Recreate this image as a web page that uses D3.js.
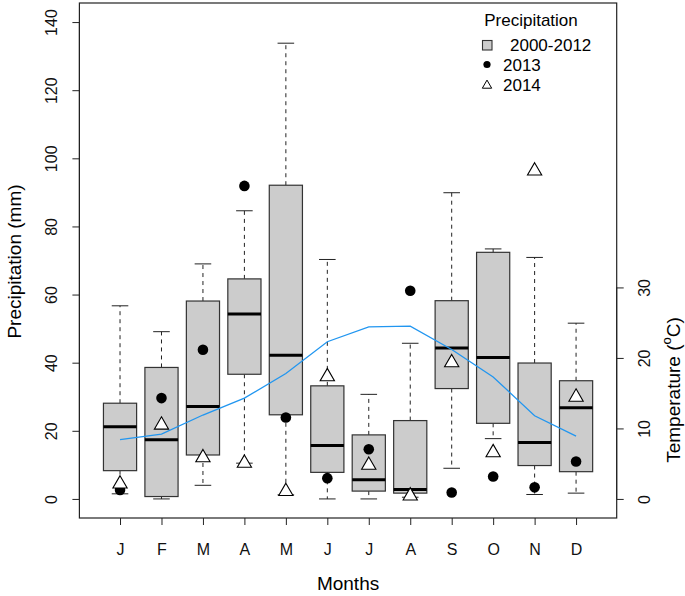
<!DOCTYPE html>
<html><head><meta charset="utf-8">
<script src="https://cdn.jsdelivr.net/npm/d3@7"></script>
<style>body{margin:0;background:#fff}svg text{font-family:"Liberation Sans",Arial,sans-serif}</style>
</head><body><svg id="c" width="685" height="596"></svg>
<script>
const months = ["J","F","M","A","M","J","J","A","S","O","N","D"];
const whiskLo = [1.5, 0, 4.0, 10.5, 1.2, 0, 0, 0.5, 9.0, 17.7, 1.3, 1.7];
const q1      = [8.3, 0.7, 12.9, 36.6, 24.7, 7.8, 2.3, 1.7, 32.4, 22.2, 9.8, 8.0];
const median  = [21.2, 17.4, 27.1, 54.3, 42.2, 15.7, 5.6, 2.8, 44.3, 41.5, 16.6, 26.8];
const q3      = [28.1, 38.6, 58.1, 64.6, 92.1, 33.2, 18.8, 23.0, 58.2, 72.4, 39.9, 34.7];
const whiskHi = [56.7, 49.1, 69.0, 84.6, 133.8, 70.3, 30.7, 45.7, 89.9, 73.4, 70.9, 51.6];
const p2013   = [2.6, 29.6, 43.8, 91.9, 23.9, 6.1, 14.6, 61.1, 1.9, 6.6, 3.4, 11.0];
const p2014   = [4.7, 22.0, 12.4, 10.8, 2.5, 36.2, 10.2, 1.2, 40.3, 13.9, 96.6, 30.2];
const temp    = [8.4, 9.2, 11.9, 14.3, 17.8, 22.3, 24.4, 24.5, 21.2, 17.3, 11.8, 8.9];
const precipTicks = [0,20,40,60,80,100,120,140];
const tempTicks = [0,10,20,30];
const legendLabels = ["2000-2012","2013","2014"];

const svg = d3.select("#c");
const L=79.4, R=616.7, T=3, B=518;
const x = d3.scaleLinear().domain([0.02,12.98]).range([L,R]);
const y = d3.scaleLinear().domain([-5.6,145.6]).range([B,T]);
const yT = d3.scaleLinear().domain([0,30]).range([y(0), y(0)-211.5]);
const bw = x(0.8)-x(0), cw = bw/2;
const idx = d3.range(12);

// boxes
const g = svg.append("g");
idx.forEach(i=>{
  const cx = x(i+1);
  g.append("line").attr("x1",cx).attr("x2",cx).attr("y1",y(q3[i])).attr("y2",y(whiskHi[i]))
    .attr("stroke","#222").attr("stroke-width",1).attr("stroke-dasharray","4,4");
  g.append("line").attr("x1",cx).attr("x2",cx).attr("y1",y(q1[i])).attr("y2",y(whiskLo[i]))
    .attr("stroke","#222").attr("stroke-width",1).attr("stroke-dasharray","4,4");
  [whiskHi[i], whiskLo[i]].forEach(v=>g.append("line").attr("x1",cx-cw/2).attr("x2",cx+cw/2)
    .attr("y1",y(v)).attr("y2",y(v)).attr("stroke","#222").attr("stroke-width",1));
  g.append("rect").attr("x",cx-bw/2).attr("width",bw).attr("y",y(q3[i])).attr("height",y(q1[i])-y(q3[i]))
    .attr("fill","#cccccc").attr("stroke","#333").attr("stroke-width",1.2);
  g.append("line").attr("x1",cx-bw/2).attr("x2",cx+bw/2).attr("y1",y(median[i])).attr("y2",y(median[i]))
    .attr("stroke","#000").attr("stroke-width",3);
});

const tri = d3.symbol().type(d3.symbolTriangle).size(88);
// 2013 points
svg.append("g").selectAll("circle").data(idx).join("circle")
  .attr("cx",i=>x(i+1)).attr("cy",i=>y(p2013[i])).attr("r",5.3).attr("fill","#000");
// 2014 triangles
svg.append("g").selectAll("path").data(idx).join("path")
  .attr("d",tri).attr("transform",i=>`translate(${x(i+1)},${y(p2014[i])+1})`)
  .attr("fill","#fff").attr("stroke","#000").attr("stroke-width",1.1);

// temperature line
svg.append("path").datum(idx).attr("fill","none").attr("stroke","#2196f0").attr("stroke-width",1.3)
  .attr("d",d3.line().x(i=>x(i+1)).y(i=>yT(temp[i])));

// frame
svg.append("rect").attr("x",L).attr("y",T).attr("width",R-L).attr("height",B-T)
  .attr("fill","none").attr("stroke","#222").attr("stroke-width",1.2);

// left axis
const ax = svg.append("g").attr("transform",`translate(${L},0)`)
  .call(d3.axisLeft(y).tickValues(precipTicks).tickSize(7).tickSizeOuter(0));
ax.select(".domain").attr("d",`M0,${y(0)}V${y(140)}`).attr("stroke","#222");
ax.selectAll(".tick line").attr("stroke","#222");
ax.selectAll(".tick text").attr("x",0).attr("dy",0).attr("transform","translate(-28,0) rotate(-90)")
  .attr("text-anchor","middle").attr("dominant-baseline","central")
  .attr("font-size",16).attr("fill","#111");

// right axis
const ar = svg.append("g").attr("transform",`translate(${R},0)`)
  .call(d3.axisRight(yT).tickValues(tempTicks).tickSize(7).tickSizeOuter(0));
ar.select(".domain").attr("d",`M0,${yT(0)}V${yT(30)}`).attr("stroke","#222");
ar.selectAll(".tick line").attr("stroke","#222");
ar.selectAll(".tick text").attr("x",0).attr("dy",0).attr("transform","translate(28,0) rotate(-90)")
  .attr("text-anchor","middle").attr("dominant-baseline","central")
  .attr("font-size",16).attr("fill","#111");

// bottom axis
const xb = d3.scalePoint().domain(idx).range([x(1),x(12)]);
const ab = svg.append("g").attr("transform",`translate(0,${B})`)
  .call(d3.axisBottom(xb).tickSize(7).tickFormat(i=>months[i]));
ab.select(".domain").remove();
ab.selectAll(".tick line").attr("stroke","#222");
ab.selectAll(".tick text").attr("y",31).attr("dy",0).attr("dominant-baseline","central")
  .attr("font-size",16).attr("fill","#111");

// titles
svg.append("text").attr("transform",`translate(14,${(y(0)+y(140))/2+1}) rotate(-90)`)
  .attr("text-anchor","middle").attr("dominant-baseline","central").attr("font-size",19).text("Precipitation (mm)");
const tt = svg.append("text").attr("transform",`translate(673,390) rotate(-90)`)
  .attr("text-anchor","middle").attr("dominant-baseline","central").attr("font-size",19);
tt.append("tspan").text("Temperature (");
tt.append("tspan").attr("font-size",13).attr("dy",-7).text("o");
tt.append("tspan").attr("dy",7).text("C)");
svg.append("text").attr("x",(L+R)/2).attr("y",583).attr("text-anchor","middle")
  .attr("dominant-baseline","central").attr("font-size",19).text("Months");

// legend
const lg = svg.append("g");
lg.append("text").attr("x",531).attr("y",20).attr("text-anchor","middle").attr("dominant-baseline","central")
  .attr("font-size",17).text("Precipitation");
lg.append("rect").attr("x",482.5).attr("y",40.5).attr("width",9.5).attr("height",9.5)
  .attr("fill","#cccccc").attr("stroke","#333").attr("stroke-width",1.1);
lg.append("circle").attr("cx",487).attr("cy",64.5).attr("r",3.6).attr("fill","#000");
lg.append("path").attr("d",d3.symbol().type(d3.symbolTriangle).size(38))
  .attr("transform","translate(487,85.5)").attr("fill","#fff").attr("stroke","#000").attr("stroke-width",1);
lg.selectAll("text.li").data(legendLabels).join("text").attr("class","li")
  .attr("x",(d,i)=>i===0?510:503).attr("y",(d,i)=>45+i*20.3).attr("dominant-baseline","central")
  .attr("font-size",17).text(d=>d);
</script></body></html>
